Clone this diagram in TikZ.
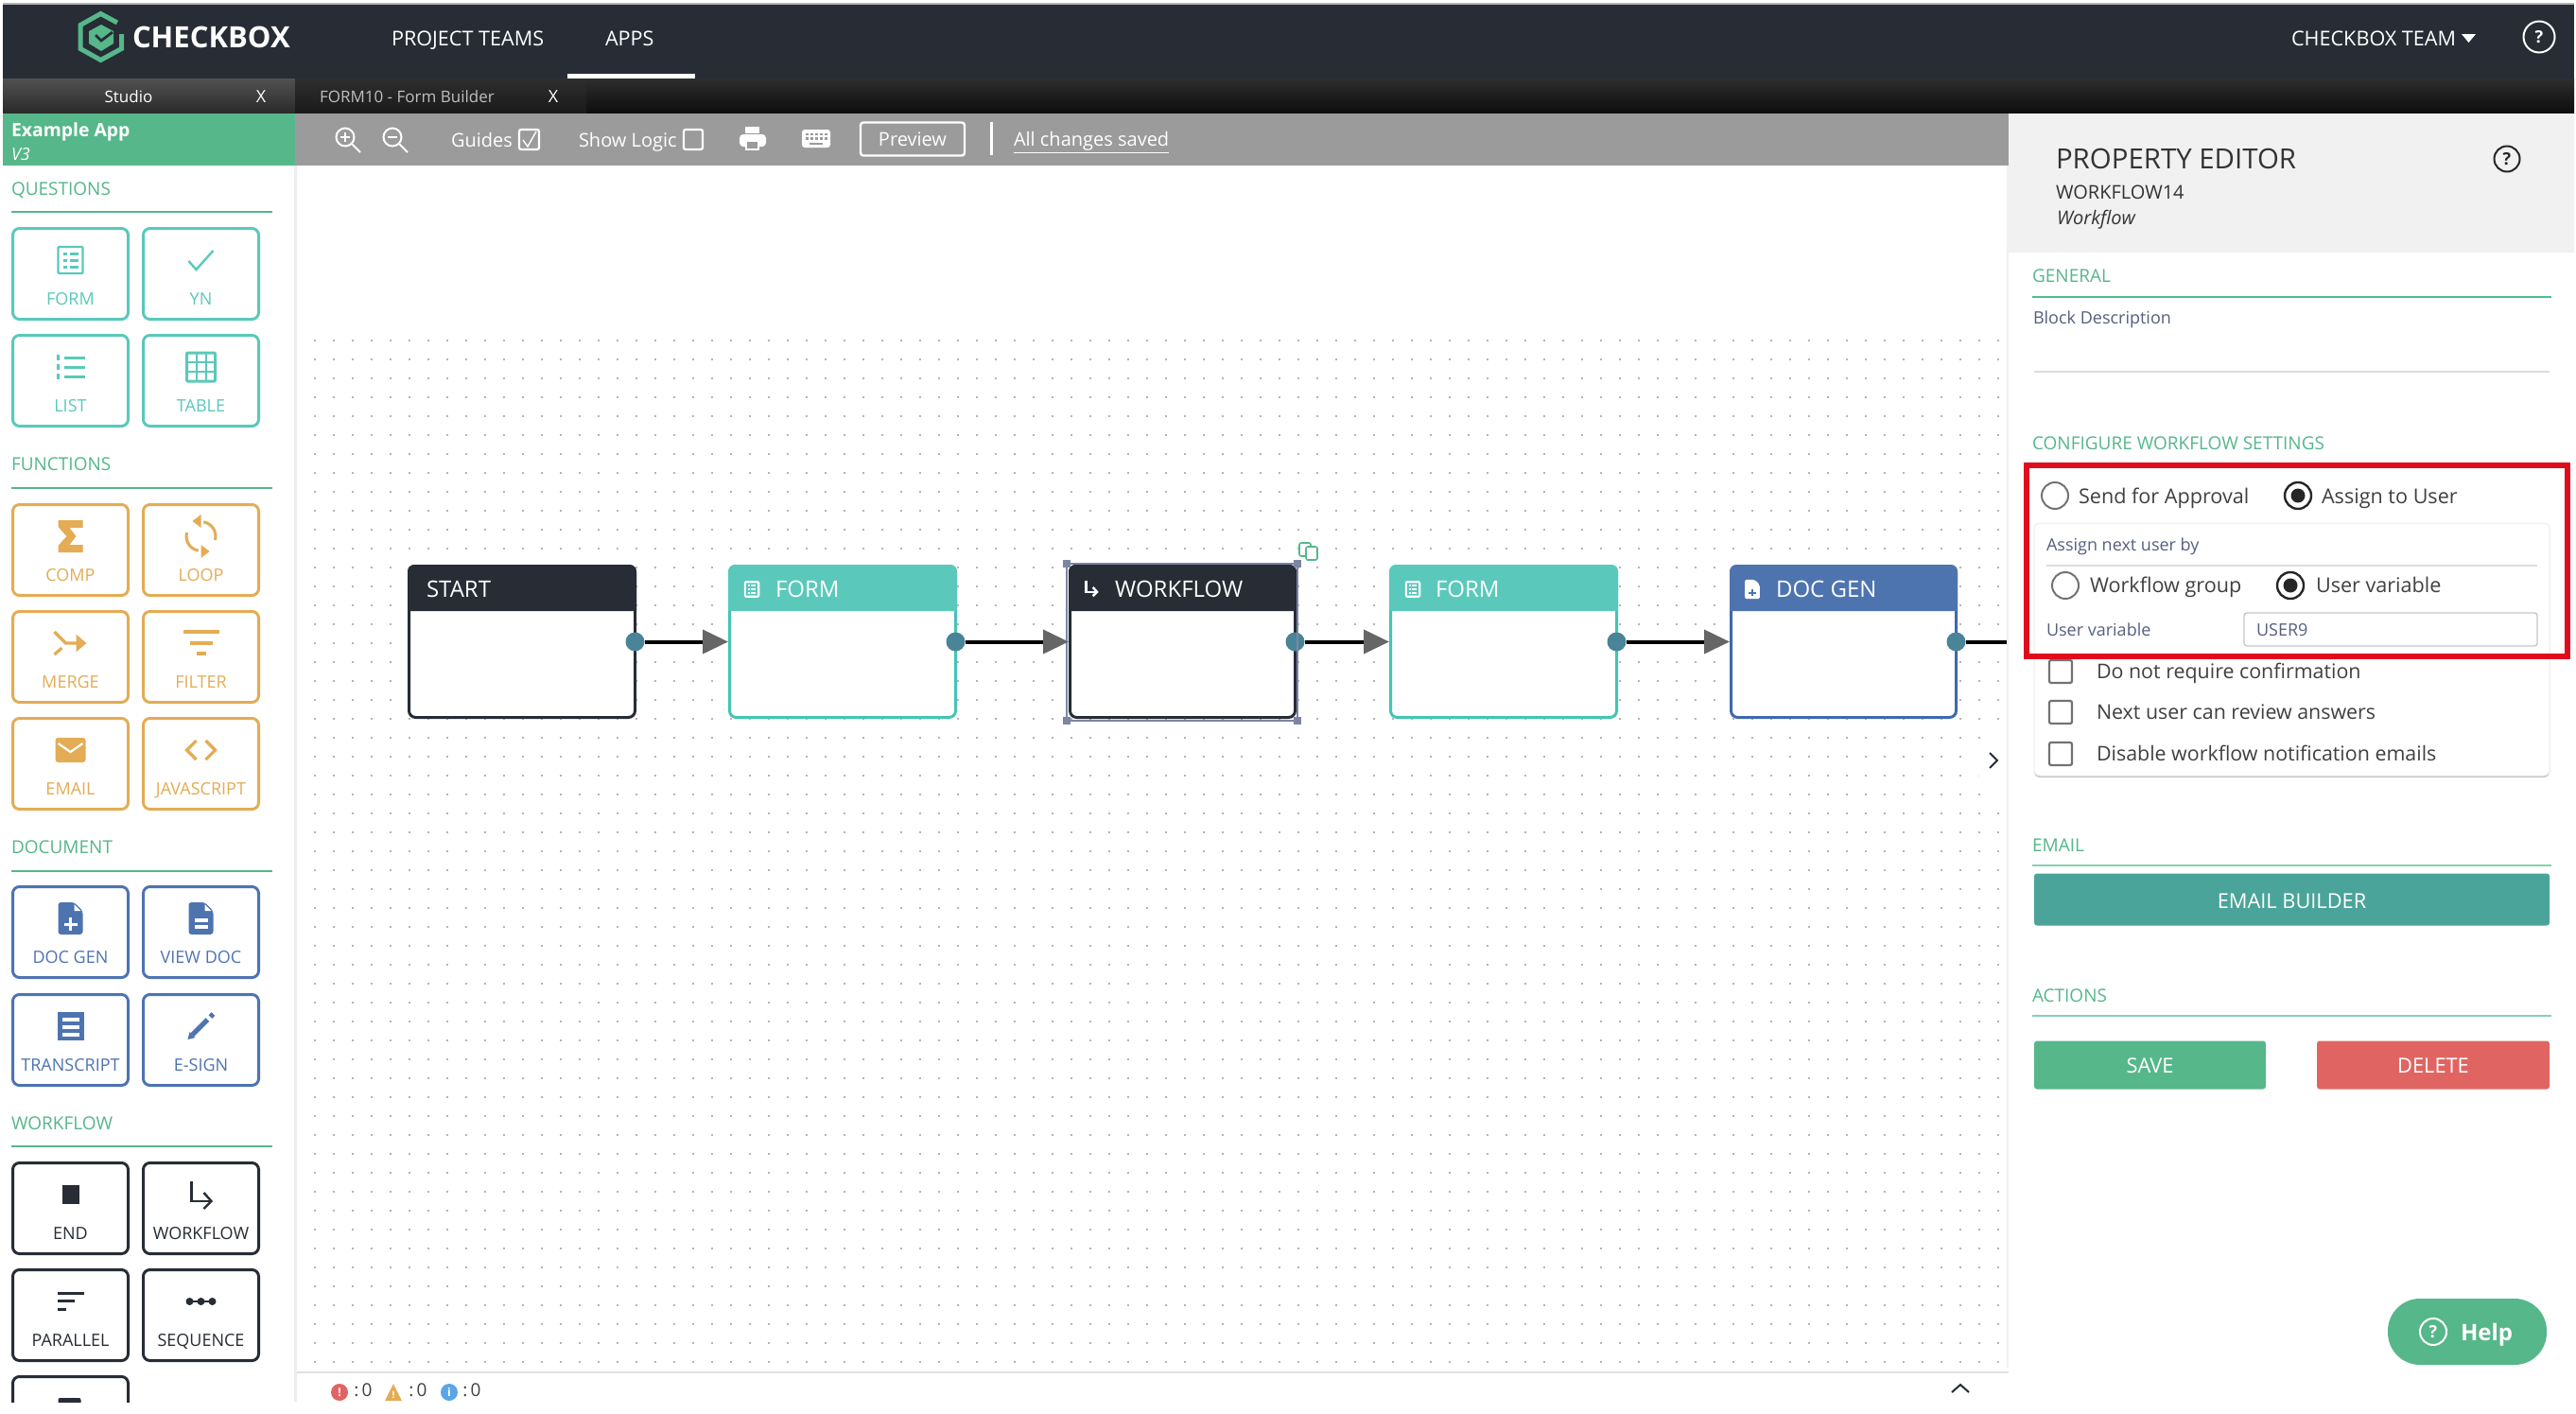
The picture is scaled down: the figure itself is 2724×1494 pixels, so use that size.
\documentclass[tikz,border=0pt]{standalone}
\usepackage{fontspec}
\setmainfont{Open Sans}
\usetikzlibrary{arrows.meta,shadows,calc}
\definecolor{navy}{HTML}{272C35}
\definecolor{tealc}{HTML}{5AC9BB}
\definecolor{tealb}{HTML}{45C4B4}
\definecolor{orangec}{HTML}{E3AC55}
\definecolor{bluec}{HTML}{4E74B0}
\definecolor{blueb}{HTML}{3F6AAE}
\definecolor{greenc}{HTML}{56B78A}
\definecolor{linec}{HTML}{4FBF8F}
\definecolor{redc}{HTML}{E00B1C}
\definecolor{delc}{HTML}{E06562}
\definecolor{mailc}{HTML}{4AA499}
\definecolor{slatec}{HTML}{55607F}
\definecolor{bodyc}{HTML}{404040}
\definecolor{dotc}{HTML}{B4B4B4}
\definecolor{portc}{HTML}{4A8498}
\definecolor{tipc}{HTML}{666666}
\definecolor{selc}{HTML}{7C86A3}
\definecolor{toolc}{HTML}{9B9B9B}
\definecolor{headc}{HTML}{F1F1F1}
\definecolor{rulec}{HTML}{DDDDDD}
\definecolor{infoc}{HTML}{5AA5E8}
\newcounter{tn}
\tikzset{
  x=.5pt,y=-.5pt,
  fs/.style={font=\fontsize{#1}{#1}\selectfont,text height=#1*0.714pt,text depth=0pt},
  txt/.style={inner sep=0pt,outer sep=0pt,anchor=west},
  ctr/.style={inner sep=0pt,outer sep=0pt,anchor=center},
  btnbox/.style={rectangle,rounded corners=3.5pt,line width=1.5pt,fill=white,minimum width=61pt,minimum height=48pt,inner sep=0pt},
  btnlabel/.style={ctr,fs=9},
  seclabel/.style={txt,fs=9.5,text=greenc},
  flowbox/.style={rectangle,rounded corners=3.5pt,line width=1.5pt,fill=white,minimum height=80pt,inner sep=0pt},
  port/.style={circle,fill=portc,minimum size=10pt,inner sep=0pt},
  flow/.style={line width=2pt,black,-{Triangle[length=13.5pt,width=12.5pt,color=tipc]}},
  action/.style={rectangle,rounded corners=1.5pt,inner sep=0pt,text=white,fs=10.9,minimum height=25.5pt},
  qmark/.style={circle,draw,line width=1pt,inner sep=0pt,fs=9,font=\fontsize{9}{9}\selectfont\bfseries},
}
\newcommand\Txt[4][]{\stepcounter{tn}\node[txt,#1] (t\arabic{tn}) at (#2,#3) {#4};}
\newcommand\Ctr[4][]{\stepcounter{tn}\node[ctr,#1] (t\arabic{tn}) at (#2,#3) {#4};}
\newcommand\Btn[6]{%
  \pgfmathsetmacro\cy{#3+49.5}\pgfmathsetmacro\iy{#3+35}\pgfmathsetmacro\ly{#3+76}%
  \node[btnbox,draw=#4] (#1) at (#2,\cy) {};
  \node[btnlabel,text=#4] (#1-l) at (#2,\ly) {#5};
  \begin{scope}[shift={(#2,\iy)},#4]#6\end{scope}}
\newcommand\Sect[3]{\Txt[seclabel]{#1}{#2}{#3}}
\newcommand\Rad[3]{%
  \draw[line width=1pt,#3,fill=white] (#1,#2) circle (14);}
\newcommand\RadOn[2]{%
  \draw[line width=1.2pt,black!85,fill=white] (#1,#2) circle (14);
  \fill[black!85] (#1,#2) circle (7.5);}
\newcommand\Chk[1]{\draw[line width=1.1pt,black!55,fill=white,rounded corners=1pt] (2167,#1-12) rectangle (2191,#1+12);}
% icons (centred on the origin, in source pixels)
\newcommand\IcoForm{%
  \draw[line width=1.1pt,rounded corners=.5pt] (-13,-14) rectangle (13,14);
  \foreach \v in {-7,0,7}{\fill (-8,\v-1.5) rectangle (-4,\v+1.5);\fill (-1,\v-1.5) rectangle (8,\v+1.5);}}
\newcommand\IcoCheck{\draw[line width=1.2pt] (-13,1)--(-5,10)--(13,-10);}
\newcommand\IcoList{%
  \foreach \v in {-10,0,10}{\fill (-7,\v-1.5) rectangle (15,\v+1.5);\fill (-15,\v-3) rectangle (-12,\v+3);}}
\newcommand\IcoTable{%
  \draw[line width=1.5pt,rounded corners=.5pt] (-15,-15) rectangle (15,15);
  \draw[line width=1pt] (-5,-15)--(-5,15) (5,-15)--(5,15) (-15,-5)--(15,-5) (-15,5)--(15,5);}
\newcommand\IcoSigma{\fill (-13,-17)--(13,-17)--(13,-9)--(-1,-9)--(6,0)--(-1,9)--(13,9)--(13,17)--(-13,17)--(-13,10)--(-4,0)--(-13,-10)--cycle;}
\newcommand\IcoLoop{%
  \draw[line width=1.5pt] (15:15.5) arc (15:-80:15.5);
  \fill (-9,-16)--(0,-23)--(0,-9)--cycle;
  \draw[line width=1.5pt] (195:15.5) arc (195:100:15.5);
  \fill (9,16)--(0,9)--(0,23)--cycle;}
\newcommand\IcoMerge{%
  \draw[line width=1.6pt,-{Triangle[length=5.5pt,width=9pt]}] (-17,-12)--(-5,0)--(17,0);
  \draw[line width=1.6pt] (-17,12)--(-9,5);}
\newcommand\IcoFilter{\fill (-19,-14) rectangle (19,-10);\fill (-12,-2) rectangle (12,2);\fill (-5,9) rectangle (5,13);}
\newcommand\IcoMail{%
  \fill[rounded corners=1.5pt] (-16,-13) rectangle (16,13);
  \draw[white,line width=1.1pt] (-13,-7)--(0,2)--(13,-7);}
\newcommand\IcoCode{\draw[line width=1.6pt] (-5,-10)--(-15,0)--(-5,10) (5,-10)--(15,0)--(5,10);}
\newcommand\DocShape{%
  \fill[rounded corners=1.5pt] (-13,-17)--(4,-17)--(13,-8)--(13,17)--(-13,17)--cycle;
  \fill[white] (4,-15)--(11,-8)--(4,-8)--cycle;}
\newcommand\IcoDocGen{\DocShape\draw[white,line width=1.5pt] (-7,6)--(7,6) (0,-1)--(0,13);}
\newcommand\IcoView{\DocShape\fill[white] (-7,0) rectangle (7,4);\fill[white] (-7,7) rectangle (7,11);}
\newcommand\IcoTranscript{%
  \fill (-14,-15) rectangle (14,15);
  \foreach \v in {-7,1,9}{\fill[white] (-9,\v-2) rectangle (9,\v+2);}}
\newcommand\IcoSign{%
  \draw[line width=2.6pt] (-9,9)--(7,-7) (10,-10)--(13,-13);
  \fill (-14,14)--(-12,6)--(-6,12)--cycle;}
\newcommand\IcoEnd{\fill (-9,-10) rectangle (9,10);}
\newcommand\IcoTurn{\draw[line width=1.2pt] (-10,-14)--(-10,7)--(11,7);\draw[line width=1.2pt] (3,-2)--(11,7)--(3,15);}
\newcommand\IcoPar{\fill (-14,-10) rectangle (14,-7);\fill (-14,-2) rectangle (4,1);\fill (-14,7) rectangle (-5,10);}
\newcommand\IcoSeq{\draw[line width=1pt] (-15,0)--(15,0);\foreach \u in {-12,0,12}{\fill (\u,0) circle (4);}}
\newcommand\IcoTop{\fill[rounded corners=1pt] (-13,-11) rectangle (11,20);}
\newcommand\Flow[7]{% name,x1,x2,body colour,head colour,label,icon
  \pgfmathsetmacro\fcx{(#2+#3)/2}\pgfmathsetmacro\fw{(#3-#2-3)*.5}%
  \node[flowbox,draw=#4,minimum width=\fw pt] (#1) at (\fcx,678.5) {};
  \fill[#5] (#2,646) [rounded corners=3.5pt] -- (#2,597) -- (#3,597) [sharp corners] -- (#3,646) -- cycle;
  #7
  \node[port] (p#1) at (#3-1.5,678.5) {};}
\begin{document}
\begin{tikzpicture}
\useasboundingbox (0,0) rectangle (2724,1494);
\fill[white] (0,0) rectangle (2724,1494);
% top bars
\fill[black!30] (3,3) rectangle (2722,5);
\fill[navy] (3,5) rectangle (2722,83);
\shade[top color=black!82,bottom color=black!95] (3,83) rectangle (2722,120);
\shade[top color=black!68,bottom color=black!84] (3,83) rectangle (312,120);
\shade[top color=black!82,bottom color=black!90] (312,83) rectangle (620,120);
\fill[white] (600,78) rectangle (735,83);
% logo
\draw[greenc,line width=2.5pt] (124,24)--(106.5,14.5)--(85,26.5)--(85,51.5)--(106.5,63.5)--(128.5,51.5)--(128.5,36);
\fill[greenc] (107,26)--(120,33)--(120,46)--(107,54)--(94,46)--(94,33)--cycle;
\draw[navy,line width=1.4pt] (101,37)--(107,43)--(119,34);
\Txt[fs=15.5,text=white,font=\fontsize{15.5}{15.5}\selectfont\bfseries]{140}{39}{CHECKBOX}
\Txt[fs=10.8,text=white]{414}{41}{PROJECT TEAMS}
\Txt[fs=10.8,text=white]{640}{41}{APPS}
\Txt[fs=10.8,text=white]{2423}{41}{CHECKBOX TEAM}
\fill[white] (2603,36)--(2618,36)--(2610.5,45)--cycle;
\node[qmark,draw=white,text=white,minimum size=16.5pt] (helptop) at (2685,39) {?};
% tabs
\Ctr[fs=8.5,text=white]{136}{102}{Studio}
\Ctr[fs=9,text=white]{276}{102}{X}
\Txt[fs=8.5,text=black!25]{338}{102}{FORM10 - Form Builder}
\Ctr[fs=9,text=white]{585}{102}{X}
% app header and toolbar
\fill[greenc] (3,120) rectangle (312,175);
\Txt[fs=9.7,text=white,font=\fontsize{9.7}{9.7}\selectfont\bfseries]{12}{138}{Example App}
\Txt[fs=9,text=white,font=\fontsize{9}{9}\selectfont\itshape]{12}{163}{V3}
\fill[toolc] (312,120) rectangle (2124,175);
\draw[white,line width=1pt] (365,145) circle (9.5) (372,152)--(381,161);
\draw[white,line width=.6pt] (360,145)--(370,145) (365,140)--(365,150);
\draw[white,line width=1pt] (415,145) circle (9.5) (422,152)--(431,161);
\draw[white,line width=.6pt] (410,145)--(420,145);
\Txt[fs=10,text=white]{477}{148}{Guides}
\draw[white,line width=1.1pt,rounded corners=1pt] (549,137) rectangle (570,158);
\draw[white,line width=.7pt] (553,148)--(558,155)--(567,139);
\Txt[fs=10,text=white]{612}{148}{Show Logic}
\draw[white,line width=1.1pt,rounded corners=1pt] (723,137) rectangle (743,158);
\fill[white,rounded corners=2pt] (782,142) rectangle (810,155);
\fill[white] (788,134) rectangle (803,141);
\fill[white] (788,152) rectangle (803,159);
\fill[toolc] (790,150) rectangle (801,157);
\fill[white,rounded corners=1.5pt] (848,137) rectangle (878,156);
\foreach \u in {852,857,862,867,872}{\fill[toolc] (\u,140.5) rectangle (\u+3,143);\fill[toolc] (\u,145) rectangle (\u+3,147.5);}
\fill[toolc] (856,150.5) rectangle (870,153);
\node[rectangle,draw=white,line width=1.2pt,rounded corners=1.5pt,minimum width=55pt,minimum height=17.5pt,inner sep=0pt,text=white,fs=10] (preview) at (965,147) {Preview};
\fill[white] (1046.5,129) rectangle (1050,164);
\Txt[fs=10,text=white]{1072}{147}{\underline{All changes saved}}
% canvas
\foreach \yy in {360,380,...,1440}{\draw[dotc,line width=1.1pt,dash pattern=on 1.1pt off 8.9pt] (312,\yy)--(2124,\yy);}
\fill[black!7] (311,175) rectangle (314,1482);
% palette
\Sect{12}{200}{QUESTIONS}
\draw[greenc,line width=1pt] (12,224)--(288,224);
\Btn{bform}{74.5}{240}{tealc}{FORM}{\IcoForm}
\Btn{byn}{212.5}{240}{tealc}{YN}{\IcoCheck}
\Btn{blist}{74.5}{353}{tealc}{LIST}{\IcoList}
\Btn{btable}{212.5}{353}{tealc}{TABLE}{\IcoTable}
\Sect{12}{491}{FUNCTIONS}
\draw[greenc,line width=1pt] (12,516)--(288,516);
\Btn{bcomp}{74.5}{532}{orangec}{COMP}{\IcoSigma}
\Btn{bloop}{212.5}{532}{orangec}{LOOP}{\IcoLoop}
\Btn{bmerge}{74.5}{645}{orangec}{MERGE}{\IcoMerge}
\Btn{bfilter}{212.5}{645}{orangec}{FILTER}{\IcoFilter}
\Btn{bmail}{74.5}{758}{orangec}{EMAIL}{\IcoMail}
\Btn{bjs}{212.5}{758}{orangec}{JAVASCRIPT}{\IcoCode}
\Sect{12}{896}{DOCUMENT}
\draw[greenc,line width=1pt] (12,921)--(288,921);
\Btn{bdocgen}{74.5}{936}{bluec}{DOC GEN}{\IcoDocGen}
\Btn{bview}{212.5}{936}{bluec}{VIEW DOC}{\IcoView}
\Btn{btrans}{74.5}{1050}{bluec}{TRANSCRIPT}{\IcoTranscript}
\Btn{bsign}{212.5}{1050}{bluec}{E-SIGN}{\IcoSign}
\Sect{12}{1188}{WORKFLOW}
\draw[greenc,line width=1pt] (12,1212)--(288,1212);
\Btn{bend}{74.5}{1228}{navy}{END}{\IcoEnd}
\Btn{bwf}{212.5}{1228}{navy}{WORKFLOW}{\IcoTurn}
\Btn{bpar}{74.5}{1341}{navy}{PARALLEL}{\IcoPar}
\Btn{bseq}{212.5}{1341}{navy}{SEQUENCE}{\IcoSeq}
\begin{scope}
\clip (0,0) rectangle (2724,1482);
\Btn{blast}{74.5}{1454}{navy}{}{\IcoTop}
\end{scope}
% status strip
\fill[white] (314,1451) rectangle (2124,1482);
\draw[black!12,line width=.7pt] (314,1451)--(2124,1451);
\fill[delc] (359,1472) circle (9);
\Ctr[fs=6,text=white,font=\fontsize{6}{6}\selectfont\bfseries]{359}{1472}{!}
\Ctr[fs=9.5,text=bodyc]{384}{1470}{:\,0}
\fill[orangec] (407,1481)--(416,1463)--(425,1481)--cycle;
\Ctr[fs=5,text=white,font=\fontsize{5}{5}\selectfont\bfseries]{416}{1475}{!}
\Ctr[fs=9.5,text=bodyc]{442}{1470}{:\,0}
\fill[infoc] (475,1472) circle (9);
\Ctr[fs=6,text=white,font=\fontsize{6}{6}\selectfont\bfseries]{475}{1472}{i}
\Ctr[fs=9.5,text=bodyc]{499}{1470}{:\,0}
\draw[navy,line width=1pt] (2064,1472)--(2073,1464)--(2082,1472);
% flow nodes
\Flow{start}{431}{673}{navy}{navy}{}{}
\Txt[fs=12,text=white]{451}{623}{START}
\Flow{formA}{770}{1012}{tealb}{tealc}{}{\begin{scope}[shift={(795,623)},scale=.55,white]\IcoForm\end{scope}}
\Txt[fs=12,text=white]{820}{623}{FORM}
\Flow{wf}{1130}{1371}{navy}{navy}{}{\begin{scope}[shift={(1154,622)},scale=.55,white]\IcoTurn\end{scope}}
\Txt[fs=12,text=white]{1179}{623}{WORKFLOW}
\Flow{formB}{1469}{1711}{tealb}{tealc}{}{\begin{scope}[shift={(1494,623)},scale=.55,white]\IcoForm\end{scope}}
\Txt[fs=12,text=white]{1518}{623}{FORM}
\Flow{docgen}{1829}{2070}{blueb}{bluec}{}{\begin{scope}[shift={(1853,623)},scale=.6,white]\fill[rounded corners=1pt] (-13,-17)--(4,-17)--(13,-8)--(13,17)--(-13,17)--cycle;\draw[bluec,line width=1pt] (-6,6)--(6,6) (0,0)--(0,12);\end{scope}}
\Txt[fs=12,text=white]{1878}{623}{DOC GEN}
% selection on the workflow node
\draw[selc,line width=.8pt] (1128,596) rectangle (1372,762);
\foreach \sx/\sy in {1128/596,1372/596,1128/762,1372/762}{\fill[selc] (\sx-4,\sy-4) rectangle (\sx+4,\sy+4);}
\draw[greenc,line width=.8pt,rounded corners=1pt] (1374,574) rectangle (1386,588);
\draw[greenc,line width=.8pt,rounded corners=1pt,fill=white] (1381,578) rectangle (1393,592);
% connectors
\coordinate (panelL) at (2124,678.5);
\draw[flow] (pstart.east) -- (formA.west);
\draw[flow] (pformA.east) -- (wf.west);
\draw[flow] (pwf.east) -- (formB.west);
\draw[flow] (pformB.east) -- (docgen.west);
\draw[black,line width=2pt] (pdocgen.east) -- (panelL);
% collapse handle
\fill[white] (2124,760) .. controls (2100,768) and (2090,785) .. (2090,804) .. controls (2090,825) and (2100,841) .. (2124,849) -- cycle;
\draw[navy,line width=1pt] (2104,796)--(2112,804)--(2104,812);
% property panel
\fill[black!6] (2122,175) rectangle (2124,1446);
\fill[white] (2124,175) rectangle (2722,1482);
\fill[headc] (2124,120) rectangle (2722,267);
\Txt[fs=14.7,text=black!80]{2174}{168}{PROPERTY EDITOR}
\Txt[fs=10,text=black!80]{2174}{203}{WORKFLOW14}
\Txt[fs=10,text=black!80,font=\fontsize{10}{10}\selectfont\itshape]{2175}{230}{Workflow}
\node[qmark,draw=black!85,text=black!85,minimum size=13.5pt] (helpprop) at (2651,168) {?};
\Txt[fs=9.5,text=greenc]{2149}{292}{GENERAL}
\draw[linec,line width=1pt] (2149,314)--(2698,314);
\Txt[fs=9,text=slatec]{2150}{336}{Block Description}
\draw[rulec,line width=1pt] (2151,393)--(2696,393);
\Txt[fs=9.5,text=greenc]{2149}{469}{CONFIGURE WORKFLOW SETTINGS}
\Rad{2173}{524}{black!55}
\Txt[fs=10.8,text=bodyc]{2198}{525}{Send for Approval}
\RadOn{2430}{524}
\Txt[fs=10.8,text=bodyc]{2455}{525}{Assign to User}
% card
\fill[black!22,rounded corners=3pt] (2151,553) rectangle (2696,822);
\fill[white,rounded corners=3pt,draw=black!7,line width=.5pt] (2151,553) rectangle (2696,820);
\Txt[fs=9,text=slatec]{2164}{576}{Assign next user by}
\draw[rulec,line width=.7pt] (2164,598)--(2683,598);
\Rad{2184}{619}{black!55}
\Txt[fs=10.8,text=bodyc]{2210}{619}{Workflow group}
\RadOn{2422}{619}
\Txt[fs=10.8,text=bodyc]{2449}{619}{User variable}
\Txt[fs=9,text=slatec]{2164}{666}{User variable}
\node[rectangle,draw=black!22,line width=.7pt,rounded corners=1.5pt,minimum width=155pt,minimum height=17.5pt,inner sep=0pt,fill=white] (uservar) at (2528,665.5) {};
\Txt[fs=9,text=slatec]{2386}{666}{USER9}
\Chk{710}
\Txt[fs=10.7,text=bodyc]{2217}{710}{Do not require confirmation}
\Chk{753}
\Txt[fs=10.7,text=bodyc]{2217}{753}{Next user can review answers}
\Chk{797}
\Txt[fs=10.7,text=bodyc]{2217}{797}{Disable workflow notification emails}
% highlight
\draw[redc,line width=2.75pt] (2143,492) rectangle (2715,694);
% email and actions
\Txt[fs=9.5,text=greenc]{2149}{894}{EMAIL}
\draw[linec!70!white,line width=1pt] (2149,915)--(2698,915);
\node[action,fill=mailc,minimum width=272.5pt,minimum height=27.5pt] (mailbtn) at (2423.5,951) {\raisebox{-1pt}{EMAIL BUILDER}};
\Txt[fs=9.5,text=greenc]{2149}{1053}{ACTIONS}
\draw[linec!70!white,line width=1pt] (2149,1074)--(2698,1074);
\node[action,fill=greenc,minimum width=122.5pt] (save) at (2273.5,1126) {\raisebox{-.5pt}{SAVE}};
\node[action,fill=delc,minimum width=123pt] (delete) at (2573,1126) {\raisebox{-.5pt}{DELETE}};
\node[rectangle,rounded corners=17pt,fill=greenc,minimum width=84pt,minimum height=35pt,inner sep=0pt] (helppill) at (2609,1408) {};
\node[qmark,draw=white,text=white,minimum size=14pt] (helpq) at (2573,1408) {?};
\Txt[fs=12,text=white,font=\fontsize{12}{12}\selectfont\bfseries]{2602}{1409}{Help}
\end{tikzpicture}
\end{document}
